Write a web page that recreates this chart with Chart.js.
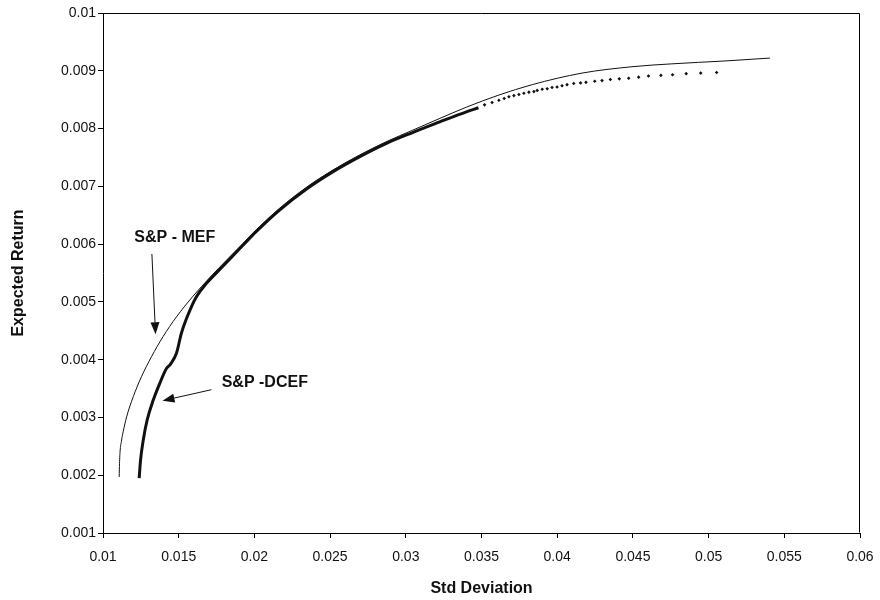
<!DOCTYPE html>
<html>
<head>
    <title>S&amp;P MEF vs DCEF</title>
    <script src="https://cdn.jsdelivr.net/npm/chart.js"></script>
    <style>
        body { margin: 0; background: #fff; }
    </style>
</head>
<body>
    <canvas id="frontier-chart" width="880" height="600"></canvas>

    <script>
        // tick values
        const xTicks = [0.01, 0.015, 0.02, 0.025, 0.03, 0.035, 0.04, 0.045, 0.05, 0.055, 0.06];
        const yTicks = [0.001, 0.002, 0.003, 0.004, 0.005, 0.006, 0.007, 0.008, 0.009, 0.01];

        // S&P - MEF (thin line)
        const mefX = [0.01107, 0.01109, 0.01113, 0.01121, 0.01133, 0.01156, 0.01200, 0.01255, 0.01320, 0.01397,
                      0.01485, 0.01595, 0.01705, 0.01815, 0.01924, 0.02013, 0.02166, 0.02342, 0.02517, 0.02693,
                      0.02869, 0.03044, 0.03220, 0.03400, 0.03615, 0.03835, 0.04164, 0.04494, 0.04757, 0.05109,
                      0.05405];
        const mefY = [0.00197, 0.00220, 0.00242, 0.00258, 0.00275, 0.00301, 0.00336, 0.00371, 0.00405, 0.00440,
                      0.00474, 0.00510, 0.00542, 0.00572, 0.00601, 0.00625, 0.00662, 0.00698, 0.00728, 0.00754,
                      0.00777, 0.00797, 0.00817, 0.00837, 0.00858, 0.00876, 0.00896, 0.00907, 0.00912, 0.00917,
                      0.00922];

        // S&P -DCEF, dense part (reads as a thick line)
        const dcefX = [0.01239, 0.01248, 0.01266, 0.01292, 0.01332, 0.01375, 0.01420, 0.01445, 0.01485, 0.01518,
                       0.01562, 0.01617, 0.01683, 0.01793, 0.01924, 0.02013, 0.02166, 0.02342, 0.02517, 0.02693,
                       0.02869, 0.03044, 0.03220, 0.03400, 0.03480];
        const dcefY = [0.00195, 0.00226, 0.00261, 0.00296, 0.00330, 0.00359, 0.00385, 0.00392, 0.00411, 0.00446,
                       0.00478, 0.00509, 0.00532, 0.00562, 0.00598, 0.00622, 0.00659, 0.00695, 0.00725, 0.00751,
                       0.00774, 0.00793, 0.00811, 0.00829, 0.00836];

        // S&P -DCEF, sparse tail (separate dots)
        const dcefDotX = [0.0352, 0.0357, 0.03615, 0.0365, 0.03681, 0.03714, 0.03747, 0.0378, 0.03813, 0.03846,
                          0.03868, 0.03901, 0.03934, 0.03966, 0.03999, 0.04032, 0.04065, 0.04109, 0.04154, 0.0419,
                          0.04248, 0.04296, 0.04351, 0.0441, 0.04472, 0.04538, 0.04603, 0.04685, 0.04762, 0.04852,
                          0.04948, 0.05053];
        const dcefDotY = [0.00841, 0.00845, 0.00849, 0.00852, 0.00855, 0.00857, 0.00859, 0.00861, 0.00863, 0.00864,
                          0.00866, 0.00868, 0.00869, 0.00871, 0.00872, 0.00874, 0.00876, 0.00878, 0.00879, 0.00880,
                          0.00882, 0.00883, 0.00885, 0.00886, 0.00887, 0.00889, 0.00891, 0.00892, 0.00893, 0.00895,
                          0.00896, 0.00897];

        // callout labels with arrows, in data units
        const callouts = [
            { text: 'S&P - MEF', tx: 0.01474, ty: 0.00612, align: 'center',
              from: [0.01323, 0.00583], to: [0.01347, 0.00444] },
            { text: 'S&P -DCEF', tx: 0.01784, ty: 0.00360, align: 'left',
              from: [0.01716, 0.00348], to: [0.01393, 0.00329] }
        ];

        const FONT = "Arial, 'Liberation Sans', sans-serif";

        function toPoints(xs, ys) {
            return xs.map((x, i) => ({ x: x, y: ys[i] }));
        }

        function fmt(v) {
            return String(parseFloat(v.toFixed(4)));
        }

        // top and right edges of the plot box
        const framePlugin = {
            id: 'frame',
            beforeDatasetsDraw(chart) {
                const { ctx, chartArea: a } = chart;
                ctx.save();
                ctx.strokeStyle = '#000';
                ctx.lineWidth = 1;
                ctx.beginPath();
                ctx.moveTo(Math.round(a.left) + 0.5, Math.round(a.top) + 0.5);
                ctx.lineTo(Math.round(a.right) - 0.5, Math.round(a.top) + 0.5);
                ctx.lineTo(Math.round(a.right) - 0.5, Math.round(a.bottom) - 0.5);
                ctx.stroke();
                ctx.restore();
            }
        };

        const calloutPlugin = {
            id: 'callouts',
            afterDatasetsDraw(chart) {
                const { ctx, scales } = chart;
                const px = v => scales.x.getPixelForValue(v);
                const py = v => scales.y.getPixelForValue(v);
                ctx.save();
                ctx.fillStyle = '#111';
                ctx.strokeStyle = '#111';
                ctx.lineWidth = 1;
                ctx.font = 'bold 16px ' + FONT;
                ctx.textBaseline = 'middle';
                callouts.forEach(c => {
                    ctx.textAlign = c.align;
                    ctx.fillText(c.text, px(c.tx), py(c.ty));

                    const x1 = px(c.from[0]), y1 = py(c.from[1]);
                    const x2 = px(c.to[0]), y2 = py(c.to[1]);
                    const ang = Math.atan2(y2 - y1, x2 - x1);
                    const len = 12, half = 4.5;
                    const bx = x2 - len * Math.cos(ang), by = y2 - len * Math.sin(ang);
                    ctx.beginPath();
                    ctx.moveTo(x1, y1);
                    ctx.lineTo(bx, by);
                    ctx.stroke();
                    ctx.beginPath();
                    ctx.moveTo(x2, y2);
                    ctx.lineTo(bx + half * Math.sin(ang), by - half * Math.cos(ang));
                    ctx.lineTo(bx - half * Math.sin(ang), by + half * Math.cos(ang));
                    ctx.closePath();
                    ctx.fill();
                });
                ctx.restore();
            }
        };

        const ctx = document.getElementById('frontier-chart').getContext('2d');
        const chart = new Chart(ctx, {
            type: 'scatter',
            data: {
                datasets: [
                    {
                        label: 'S&P - MEF',
                        data: toPoints(mefX, mefY),
                        showLine: true,
                        borderColor: '#111',
                        borderWidth: 1,
                        pointRadius: 0,
                        cubicInterpolationMode: 'monotone'
                    },
                    {
                        label: 'S&P -DCEF',
                        data: toPoints(dcefX, dcefY),
                        showLine: true,
                        borderColor: '#111',
                        borderWidth: 3,
                        pointRadius: 0,
                        cubicInterpolationMode: 'monotone'
                    },
                    {
                        label: 'S&P -DCEF tail',
                        data: toPoints(dcefDotX, dcefDotY),
                        showLine: false,
                        pointStyle: 'rectRot',
                        pointRadius: 1.8,
                        backgroundColor: '#111',
                        borderWidth: 0
                    }
                ]
            },
            options: {
                responsive: false,
                animation: false,
                layout: { padding: { top: 13, right: 20, left: 0, bottom: 0 } },
                plugins: {
                    legend: { display: false },
                    tooltip: { enabled: false }
                },
                scales: {
                    x: {
                        type: 'linear',
                        min: 0.01,
                        max: 0.06,
                        afterBuildTicks: s => { s.ticks = xTicks.map(v => ({ value: v })); },
                        afterFit: s => { s.height = 67; s.paddingLeft = 0; s.paddingRight = 0; },
                        grid: { drawOnChartArea: false, drawTicks: true, tickLength: 5, color: '#000' },
                        border: { display: true, color: '#000', width: 1 },
                        ticks: {
                            color: '#111',
                            padding: 11,
                            maxRotation: 0,
                            font: { family: FONT, size: 14 },
                            callback: v => fmt(v)
                        },
                        title: {
                            display: true,
                            text: 'Std Deviation',
                            color: '#111',
                            font: { family: FONT, size: 16, weight: 'bold' },
                            padding: { top: 0, bottom: 2 }
                        }
                    },
                    y: {
                        type: 'linear',
                        min: 0.001,
                        max: 0.01,
                        afterBuildTicks: s => { s.ticks = yTicks.map(v => ({ value: v })); },
                        afterFit: s => { s.width = 103; },
                        grid: { drawOnChartArea: false, drawTicks: true, tickLength: 5, color: '#000' },
                        border: { display: true, color: '#000', width: 1 },
                        ticks: {
                            color: '#111',
                            padding: 2,
                            font: { family: FONT, size: 14 },
                            callback: v => fmt(v)
                        },
                        title: {
                            display: true,
                            text: 'Expected Return',
                            color: '#111',
                            font: { family: FONT, size: 16, weight: 'bold' },
                            padding: { top: 9, bottom: 0 }
                        }
                    }
                }
            },
            plugins: [framePlugin, calloutPlugin]
        });
    </script>
</body>
</html>
